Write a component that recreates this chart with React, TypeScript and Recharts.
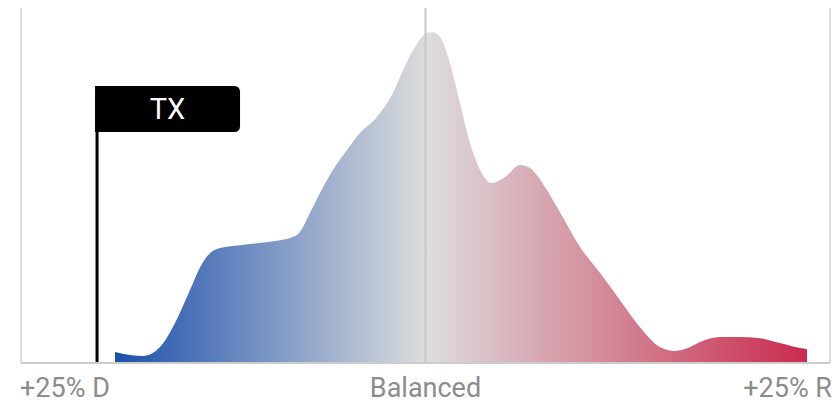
import React from 'react';
import { ComposedChart, Area, XAxis, YAxis, ReferenceLine, ReferenceDot } from 'recharts';

// Partisan lean (negative = D, positive = R) and relative density
const lean = [-19.19, -18.26, -17.46, -16.41, -15.48, -14.55, -13.93, -13.31, -12.7, -11.46, -10.23, -8.99, -8.37, -7.76, -7.14, -6.52, -5.72, -4.98, -4.05, -3.0, -2.01, -1.39, -0.65, 0.09, 0.46, 0.9, 1.51, 2.13, 2.75, 3.37, 4.11, 4.91, 5.84, 6.46, 7.38, 8.31, 9.55, 10.78, 12.02, 13.26, 14.49, 15.42, 16.35, 16.97, 18.2, 19.44, 20.68, 21.91, 23.15, 23.58];
const density = [3.1, 2.25, 2.0, 4.5, 11.3, 20.6, 27.0, 31.0, 32.4, 33.2, 33.8, 34.6, 35.2, 36.9, 42.3, 47.9, 54.4, 59.2, 64.8, 69.3, 76.1, 82.5, 89.0, 93.0, 93.2, 91.8, 84.5, 73.2, 62.0, 54.4, 50.7, 52.4, 55.8, 54.9, 49.6, 42.5, 32.7, 25.4, 17.7, 10.1, 4.5, 3.4, 4.5, 5.9, 7.3, 7.3, 7.0, 5.6, 4.2, 3.9];

const tickValues = [-25, 0, 25];
const tickLabels = ['+25% D', 'Balanced', '+25% R'];

const markerState = 'TX';
const markerLean = -20.3;
const markerTop = 78;

const data = lean.map((x, i) => ({ x, y: density[i] }));

const FONT = 'Roboto, "Noto Sans", sans-serif';

const Tick = (props: any) => {
  const { x, y, payload } = props;
  const idx = tickValues.indexOf(payload.value);
  const anchor = idx === 0 ? 'start' : idx === 2 ? 'end' : 'middle';
  const dx = idx === 0 ? -1 : idx === 2 ? 2 : 0;
  return (
    <text x={x + dx} y={y + 34} textAnchor={anchor} fill="#8c8c8c" fontSize={27} fontFamily={FONT}>
      {tickLabels[idx]}
    </text>
  );
};

const Flag = (props: any) => {
  const { cx, cy } = props;
  const left = cx - 2;
  const w = 145;
  const h = 46;
  const r = 6;
  const d = `M${left},${cy} H${left + w - r} Q${left + w},${cy} ${left + w},${cy + r} V${cy + h - r} Q${left + w},${cy + h} ${left + w - r},${cy + h} H${left} Z`;
  return (
    <g>
      <path d={d} fill="#000" />
      <text x={left + w / 2} y={cy + 33} textAnchor="middle" fill="#fff" fontSize={29} fontFamily={FONT}>
        {markerState}
      </text>
    </g>
  );
};

export default function App() {
  return (
    <div style={{ position: 'absolute', left: 0, top: 0, width: 836, height: 404, background: '#fff', fontFamily: FONT }}>
      <ComposedChart width={836} height={404} data={data} margin={{ top: 8, right: 6, left: 21, bottom: 0 }}>
        <defs>
          <linearGradient id="leanGrad" x1="0" y1="0" x2="1" y2="0">
            <stop offset="0%" stopColor="#1c50ac" />
            <stop offset="45%" stopColor="#dddddd" />
            <stop offset="100%" stopColor="#c92b4d" />
          </linearGradient>
        </defs>
        <XAxis
          dataKey="x"
          type="number"
          domain={[-25, 25]}
          ticks={tickValues}
          allowDataOverflow
          height={41}
          tickLine={false}
          tickSize={0}
          tickMargin={0}
          axisLine={{ stroke: '#cccccc', strokeWidth: 2 }}
          tick={<Tick />}
          interval={0}
        />
        <YAxis type="number" domain={[0, 100]} hide allowDataOverflow />
        <Area
          type="monotone"
          dataKey="y"
          stroke="none"
          fill="url(#leanGrad)"
          fillOpacity={1}
          isAnimationActive={false}
          dot={false}
          activeDot={false}
        />
        <ReferenceLine x={-25} stroke="#dddddd" strokeWidth={2} />
        <ReferenceLine x={25} stroke="#dddddd" strokeWidth={2} />
        <ReferenceLine x={0} stroke="#c8c8c8" strokeWidth={2} />
        <ReferenceLine
          segment={[{ x: markerLean, y: 0 }, { x: markerLean, y: markerTop }]}
          stroke="#000"
          strokeWidth={3}
        />
        <ReferenceDot x={markerLean} y={markerTop} shape={<Flag />} />
      </ComposedChart>
    </div>
  );
}
